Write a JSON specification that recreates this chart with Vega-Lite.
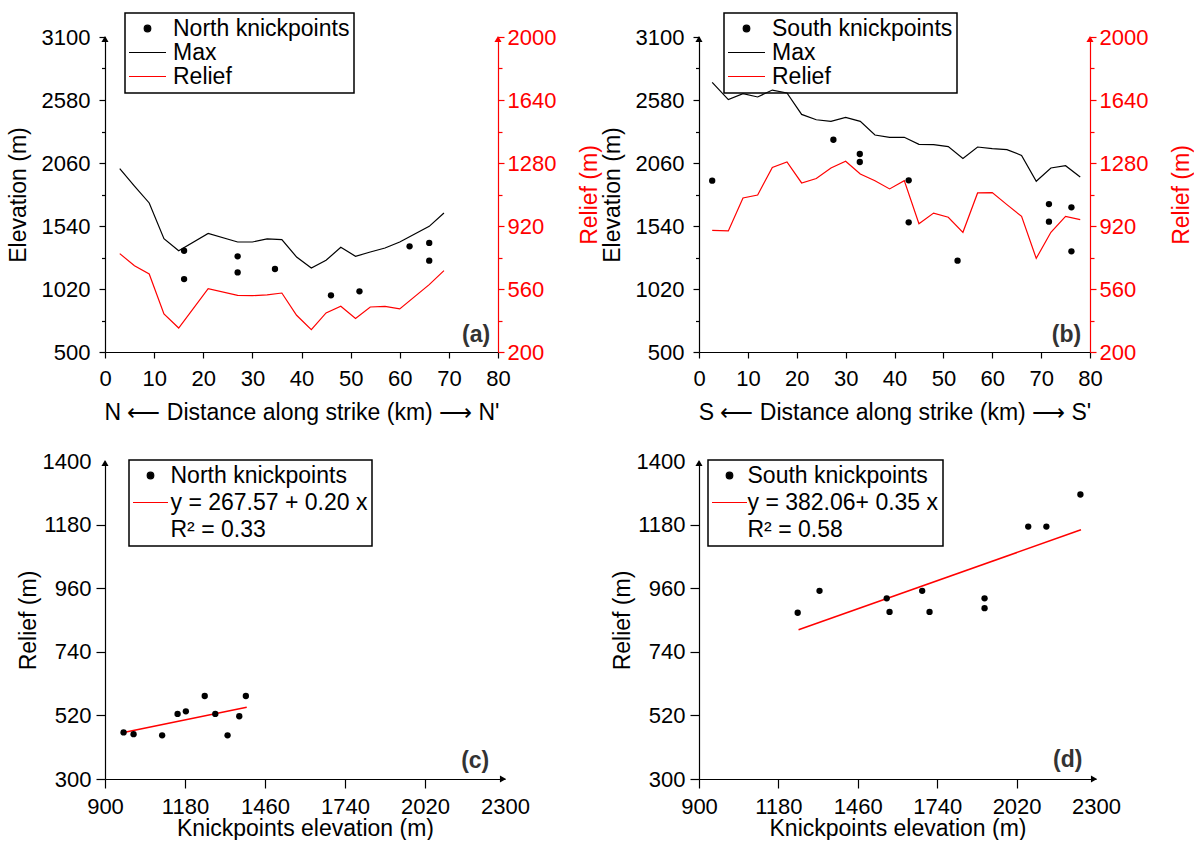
{
  "$schema": "https://vega.github.io/schema/vega-lite/v6.json",
  "background": "white",
  "padding": {"left": 7, "top": 12, "right": 0, "bottom": 0},
  "config": {
    "view": {"stroke": null},
    "font": "Liberation Sans",
    "axis": {
      "grid": false,
      "format": "d",
      "labelFont": "Liberation Sans",
      "titleFont": "Liberation Sans",
      "labelFontSize": 22,
      "titleFontSize": 23,
      "titleFontWeight": "normal",
      "labelColor": "black",
      "titleColor": "black",
      "domainColor": "black",
      "tickColor": "black",
      "domainWidth": 1.2,
      "tickWidth": 1.2,
      "labelOverlap": false,
      "labelFlush": false,
      "labelBound": false
    },
    "legend": {
      "labelFont": "Liberation Sans",
      "labelFontSize": 23,
      "labelColor": "black",
      "labelLimit": 400,
      "symbolSize": 400,
      "padding": 4,
      "strokeColor": "black",
      "title": null,
      "orient": "none"
    }
  },
  "datasets": {
    "northProfile": [
      {"dist": 3, "max": 2013, "relief": 762},
      {"dist": 6, "max": 1870, "relief": 693},
      {"dist": 9, "max": 1730, "relief": 646},
      {"dist": 12, "max": 1435, "relief": 417},
      {"dist": 15, "max": 1336, "relief": 337},
      {"dist": 21, "max": 1479, "relief": 562},
      {"dist": 27, "max": 1408, "relief": 524},
      {"dist": 30, "max": 1408, "relief": 522},
      {"dist": 33, "max": 1433, "relief": 526},
      {"dist": 36, "max": 1427, "relief": 537},
      {"dist": 39, "max": 1284, "relief": 410},
      {"dist": 42, "max": 1193, "relief": 328},
      {"dist": 45, "max": 1257, "relief": 423},
      {"dist": 48, "max": 1364, "relief": 461},
      {"dist": 51, "max": 1290, "relief": 391},
      {"dist": 54, "max": 1325, "relief": 457},
      {"dist": 57, "max": 1358, "relief": 461},
      {"dist": 60, "max": 1408, "relief": 446},
      {"dist": 66, "max": 1537, "relief": 585},
      {"dist": 69, "max": 1647, "relief": 665}
    ],
    "northKnick": [
      {"dist": 16.1, "elev": 1336},
      {"dist": 16.1, "elev": 1102},
      {"dist": 27, "elev": 1290},
      {"dist": 27, "elev": 1157},
      {"dist": 34.6, "elev": 1185},
      {"dist": 46, "elev": 968},
      {"dist": 51.8, "elev": 1001},
      {"dist": 62, "elev": 1372},
      {"dist": 66, "elev": 1400},
      {"dist": 66, "elev": 1254}
    ],
    "southProfile": [
      {"dist": 2.7, "max": 2726, "relief": 895},
      {"dist": 6, "max": 2583, "relief": 892},
      {"dist": 9, "max": 2632, "relief": 1080},
      {"dist": 12, "max": 2605, "relief": 1097},
      {"dist": 15, "max": 2662, "relief": 1255},
      {"dist": 18, "max": 2638, "relief": 1286},
      {"dist": 21, "max": 2461, "relief": 1166},
      {"dist": 24, "max": 2417, "relief": 1191},
      {"dist": 27, "max": 2404, "relief": 1252},
      {"dist": 30, "max": 2437, "relief": 1290},
      {"dist": 33, "max": 2404, "relief": 1217},
      {"dist": 36, "max": 2291, "relief": 1179},
      {"dist": 39, "max": 2272, "relief": 1132},
      {"dist": 42, "max": 2272, "relief": 1179},
      {"dist": 45, "max": 2214, "relief": 933},
      {"dist": 48, "max": 2211, "relief": 994},
      {"dist": 51, "max": 2195, "relief": 970},
      {"dist": 54, "max": 2098, "relief": 884},
      {"dist": 57, "max": 2192, "relief": 1109},
      {"dist": 60, "max": 2178, "relief": 1111},
      {"dist": 63, "max": 2170, "relief": 1042},
      {"dist": 66, "max": 2123, "relief": 975},
      {"dist": 69, "max": 1909, "relief": 735},
      {"dist": 72, "max": 2019, "relief": 884},
      {"dist": 75, "max": 2038, "relief": 975},
      {"dist": 78, "max": 1944, "relief": 956}
    ],
    "southKnick": [
      {"dist": 2.7, "elev": 1914},
      {"dist": 27.5, "elev": 2252},
      {"dist": 32.9, "elev": 2134},
      {"dist": 32.9, "elev": 2068},
      {"dist": 42.9, "elev": 1917},
      {"dist": 42.9, "elev": 1570},
      {"dist": 52.9, "elev": 1254},
      {"dist": 71.6, "elev": 1721},
      {"dist": 71.6, "elev": 1576},
      {"dist": 76.2, "elev": 1694},
      {"dist": 76.2, "elev": 1331}
    ],
    "northScatter": [
      {"elev": 965, "relief": 461},
      {"elev": 1000, "relief": 455},
      {"elev": 1100, "relief": 451},
      {"elev": 1154, "relief": 525},
      {"elev": 1183, "relief": 534},
      {"elev": 1249, "relief": 587},
      {"elev": 1286, "relief": 525},
      {"elev": 1329, "relief": 451},
      {"elev": 1370, "relief": 517},
      {"elev": 1393, "relief": 587}
    ],
    "northFit": [
      {"elev": 965, "relief": 461},
      {"elev": 1396, "relief": 548}
    ],
    "southScatter": [
      {"elev": 1248, "relief": 875},
      {"elev": 1325, "relief": 951},
      {"elev": 1562, "relief": 925},
      {"elev": 1572, "relief": 878},
      {"elev": 1687, "relief": 951},
      {"elev": 1713, "relief": 878},
      {"elev": 1907, "relief": 925},
      {"elev": 1907, "relief": 891},
      {"elev": 2061, "relief": 1173},
      {"elev": 2125, "relief": 1173},
      {"elev": 2245, "relief": 1284}
    ],
    "southFit": [
      {"elev": 1251, "relief": 816},
      {"elev": 2247, "relief": 1162}
    ]
  },
  "columns": 2,
  "bounds": "flush",
  "align": "all",
  "spacing": {"row": 106, "column": 194},
  "resolve": {"scale": {"color": "independent"}, "legend": {"color": "independent"}},
  "concat": [
    {
      "width": 393,
      "height": 315,
      "resolve": {"scale": {"y": "independent"}},
      "layer": [
        {
          "data": {"name": "northProfile"},
          "mark": {"type": "line", "strokeWidth": 1.2},
          "encoding": {
            "x": {"field": "dist", "type": "quantitative", "scale": {"domain": [0, 80]},
              "axis": {"title": "N ⟵ Distance along strike (km) ⟶ N'",
                "values": [0,5,10,15,20,25,30,35,40,45,50,55,60,65,70,75,80],
                "labelExpr": "datum.value % 10 === 0 ? datum.label : ''",
                "tickSize": {"condition": {"test": "datum.value % 10 === 0", "value": 6}, "value": 4},
                "labelPadding": 10, "titlePadding": 12.5}},
            "y": {"field": "max", "type": "quantitative", "scale": {"domain": [500, 3100]},
              "axis": {"title": "Elevation (m)",
                "values": [500,760,1020,1280,1540,1800,2060,2320,2580,2840,3100],
                "labelExpr": "(datum.value - 500) % 520 === 0 ? datum.label : ''",
                "tickSize": {"condition": {"test": "(datum.value - 500) % 520 === 0", "value": 6}, "value": 3.5},
                "labelPadding": 9, "titlePadding": 11}},
            "color": {"datum": "Max", "type": "nominal",
              "scale": {"domain": ["North knickpoints", "Max", "Relief"], "range": ["black", "black", "red"]},
              "legend": {"title": null, "orient": "none", "legendX": 20, "legendY": -24,
                "labelOffset": 14, "symbolOffset": 7, "rowPadding": 0,
                "encode": {
                  "legend": {"update": {"strokeWidth": {"value": 1.5}}},
                  "symbols": {"update": {
                    "shape": {"signal": "datum.index === 0 ? 'M-0.33,0A0.33,0.33 0 1,0 0.33,0A0.33,0.33 0 1,0 -0.33,0Z' : 'M-1.85,0H1.85'"},
                    "fill": {"signal": "datum.index === 0 ? 'black' : 'transparent'"},
                    "stroke": {"signal": "datum.index === 2 ? 'red' : 'black'"},
                    "strokeWidth": {"value": 1.2},
                    "opacity": {"value": 1}}}}}}
          }
        },
        {
          "data": {"name": "northKnick"},
          "mark": {"type": "circle", "size": 40, "opacity": 1},
          "encoding": {
            "x": {"field": "dist", "type": "quantitative"},
            "y": {"field": "elev", "type": "quantitative", "scale": {"domain": [500, 3100]}, "axis": null},
            "color": {"datum": "North knickpoints", "type": "nominal"}
          }
        },
        {
          "data": {"values": [{}]},
          "mark": {"type": "point", "shape": "triangle-up", "filled": true, "size": 50, "color": "black", "opacity": 1, "yOffset": 2},
          "encoding": {"x": {"datum": 0, "type": "quantitative"}, "y": {"datum": 3100, "type": "quantitative", "scale": {"domain": [500, 3100]}, "axis": null}}
        },
        {
          "data": {"values": [{}]},
          "mark": {"type": "text", "text": "(a)", "fontWeight": "bold", "fontSize": 23, "align": "right", "baseline": "alphabetic", "color": "#333333"},
          "encoding": {"x": {"datum": 78.4, "type": "quantitative"}, "y": {"datum": 585, "type": "quantitative", "scale": {"domain": [500, 3100]}, "axis": null}}
        },
        {
          "data": {"name": "northProfile"},
          "mark": {"type": "line", "strokeWidth": 1.2},
          "encoding": {
            "x": {"field": "dist", "type": "quantitative"},
            "y": {"field": "relief", "type": "quantitative", "scale": {"domain": [200, 2000]},
              "axis": {"orient": "right", "title": "Relief (m)",
                "values": [200,380,560,740,920,1100,1280,1460,1640,1820,2000],
                "labelExpr": "(datum.value - 200) % 360 === 0 ? datum.label : ''",
                "tickSize": {"condition": {"test": "(datum.value - 200) % 360 === 0", "value": 6}, "value": 4},
                "labelColor": "red", "titleColor": "red", "domainColor": "red", "tickColor": "red",
                "labelPadding": 3, "titleAngle": 270, "titleBaseline": "top", "titlePadding": 23}},
            "color": {"datum": "Relief", "type": "nominal"}
          }
        },
        {
          "data": {"values": [{}]},
          "mark": {"type": "point", "shape": "triangle-up", "filled": true, "size": 50, "color": "red", "opacity": 1, "yOffset": 2},
          "encoding": {"x": {"datum": 80, "type": "quantitative"}, "y": {"datum": 2000, "type": "quantitative", "scale": {"domain": [200, 2000]}, "axis": null}}
        }
      ]
    },
    {
      "width": 391,
      "height": 315,
      "resolve": {"scale": {"y": "independent"}},
      "layer": [
        {
          "data": {"name": "southProfile"},
          "mark": {"type": "line", "strokeWidth": 1.2},
          "encoding": {
            "x": {"field": "dist", "type": "quantitative", "scale": {"domain": [0, 80]},
              "axis": {"title": "S ⟵ Distance along strike (km) ⟶ S'",
                "values": [0,5,10,15,20,25,30,35,40,45,50,55,60,65,70,75,80],
                "labelExpr": "datum.value % 10 === 0 ? datum.label : ''",
                "tickSize": {"condition": {"test": "datum.value % 10 === 0", "value": 6}, "value": 4},
                "labelPadding": 10, "titlePadding": 12.5}},
            "y": {"field": "max", "type": "quantitative", "scale": {"domain": [500, 3100]},
              "axis": {"title": "Elevation (m)",
                "values": [500,760,1020,1280,1540,1800,2060,2320,2580,2840,3100],
                "labelExpr": "(datum.value - 500) % 520 === 0 ? datum.label : ''",
                "tickSize": {"condition": {"test": "(datum.value - 500) % 520 === 0", "value": 6}, "value": 3.5},
                "labelPadding": 9, "titlePadding": 11}},
            "color": {"datum": "Max", "type": "nominal",
              "scale": {"domain": ["South knickpoints", "Max", "Relief"], "range": ["black", "black", "red"]},
              "legend": {"title": null, "orient": "none", "legendX": 25, "legendY": -24,
                "labelOffset": 14, "symbolOffset": 7, "rowPadding": 0,
                "encode": {
                  "legend": {"update": {"strokeWidth": {"value": 1.5}}},
                  "symbols": {"update": {
                    "shape": {"signal": "datum.index === 0 ? 'M-0.33,0A0.33,0.33 0 1,0 0.33,0A0.33,0.33 0 1,0 -0.33,0Z' : 'M-1.85,0H1.85'"},
                    "fill": {"signal": "datum.index === 0 ? 'black' : 'transparent'"},
                    "stroke": {"signal": "datum.index === 2 ? 'red' : 'black'"},
                    "strokeWidth": {"value": 1.2},
                    "opacity": {"value": 1}}}}}}
          }
        },
        {
          "data": {"name": "southKnick"},
          "mark": {"type": "circle", "size": 40, "opacity": 1},
          "encoding": {
            "x": {"field": "dist", "type": "quantitative"},
            "y": {"field": "elev", "type": "quantitative", "scale": {"domain": [500, 3100]}, "axis": null},
            "color": {"datum": "South knickpoints", "type": "nominal"}
          }
        },
        {
          "data": {"values": [{}]},
          "mark": {"type": "point", "shape": "triangle-up", "filled": true, "size": 50, "color": "black", "opacity": 1, "yOffset": 2},
          "encoding": {"x": {"datum": 0, "type": "quantitative"}, "y": {"datum": 3100, "type": "quantitative", "scale": {"domain": [500, 3100]}, "axis": null}}
        },
        {
          "data": {"values": [{}]},
          "mark": {"type": "text", "text": "(b)", "fontWeight": "bold", "fontSize": 23, "align": "right", "baseline": "alphabetic", "color": "#333333"},
          "encoding": {"x": {"datum": 78.2, "type": "quantitative"}, "y": {"datum": 585, "type": "quantitative", "scale": {"domain": [500, 3100]}, "axis": null}}
        },
        {
          "data": {"name": "southProfile"},
          "mark": {"type": "line", "strokeWidth": 1.2},
          "encoding": {
            "x": {"field": "dist", "type": "quantitative"},
            "y": {"field": "relief", "type": "quantitative", "scale": {"domain": [200, 2000]},
              "axis": {"orient": "right", "title": "Relief (m)",
                "values": [200,380,560,740,920,1100,1280,1460,1640,1820,2000],
                "labelExpr": "(datum.value - 200) % 360 === 0 ? datum.label : ''",
                "tickSize": {"condition": {"test": "(datum.value - 200) % 360 === 0", "value": 6}, "value": 4},
                "labelColor": "red", "titleColor": "red", "domainColor": "red", "tickColor": "red",
                "labelPadding": 3, "titleAngle": 270, "titleBaseline": "top", "titlePadding": 23}},
            "color": {"datum": "Relief", "type": "nominal"}
          }
        },
        {
          "data": {"values": [{}]},
          "mark": {"type": "point", "shape": "triangle-up", "filled": true, "size": 50, "color": "red", "opacity": 1, "yOffset": 2},
          "encoding": {"x": {"datum": 80, "type": "quantitative"}, "y": {"datum": 2000, "type": "quantitative", "scale": {"domain": [200, 2000]}, "axis": null}}
        }
      ]
    },
    {
      "width": 400,
      "height": 318,
      "layer": [
        {
          "data": {"name": "northFit"},
          "mark": {"type": "line", "strokeWidth": 1.5},
          "encoding": {
            "x": {"field": "elev", "type": "quantitative", "scale": {"domain": [900, 2300]},
              "axis": {"title": "Knickpoints elevation (m)",
                "values": [900,1040,1180,1320,1460,1600,1740,1880,2020,2160,2300],
                "labelExpr": "(datum.value - 900) % 280 === 0 ? datum.label : ''",
                "tickSize": {"condition": {"test": "(datum.value - 900) % 280 === 0", "value": 9}, "value": 5},
                "tickOpacity": {"condition": {"test": "datum.value === 2300", "value": 0}, "value": 1},
                "labelPadding": 8, "titlePadding": 0}},
            "y": {"field": "relief", "type": "quantitative", "scale": {"domain": [300, 1400]},
              "axis": {"title": "Relief (m)",
                "values": [300,410,520,630,740,850,960,1070,1180,1290,1400],
                "labelExpr": "(datum.value - 300) % 220 === 0 ? datum.label : ''",
                "tickSize": {"condition": {"test": "(datum.value - 300) % 220 === 0", "value": 9}, "value": 5},
                "tickOpacity": {"condition": {"test": "datum.value === 1400", "value": 0}, "value": 1},
                "labelPadding": 5, "titlePadding": 2}},
            "color": {"datum": "y = 267.57 + 0.20 x", "type": "nominal",
              "scale": {"domain": ["North knickpoints", "y = 267.57 + 0.20 x", "R² = 0.33"], "range": ["black", "red", "transparent"]},
              "legend": {"title": null, "orient": "none", "legendX": 24, "legendY": -1,
                "labelOffset": 8.5, "symbolOffset": 6, "rowPadding": 3,
                "encode": {
                  "legend": {"update": {"strokeWidth": {"value": 1.5}}},
                  "symbols": {"update": {
                    "shape": {"signal": "datum.index === 0 ? 'M-0.33,0A0.33,0.33 0 1,0 0.33,0A0.33,0.33 0 1,0 -0.33,0Z' : 'M-1.75,0H1.75'"},
                    "fill": {"signal": "datum.index === 0 ? 'black' : 'transparent'"},
                    "stroke": {"signal": "datum.index === 0 ? 'black' : (datum.index === 1 ? 'red' : 'transparent')"},
                    "strokeWidth": {"value": 1.2},
                    "opacity": {"value": 1}}}}}}
          }
        },
        {
          "data": {"name": "northScatter"},
          "mark": {"type": "circle", "size": 40, "opacity": 1},
          "encoding": {
            "x": {"field": "elev", "type": "quantitative"},
            "y": {"field": "relief", "type": "quantitative"},
            "color": {"datum": "North knickpoints", "type": "nominal"}
          }
        },
        {
          "data": {"values": [{}]},
          "mark": {"type": "point", "shape": "triangle-up", "filled": true, "size": 50, "color": "black", "opacity": 1, "yOffset": 2},
          "encoding": {"x": {"datum": 900, "type": "quantitative"}, "y": {"datum": 1400, "type": "quantitative"}}
        },
        {
          "data": {"values": [{}]},
          "mark": {"type": "point", "shape": "triangle-right", "filled": true, "size": 50, "color": "black", "opacity": 1, "xOffset": -2},
          "encoding": {"x": {"datum": 2300, "type": "quantitative"}, "y": {"datum": 300, "type": "quantitative"}}
        },
        {
          "data": {"values": [{}]},
          "mark": {"type": "text", "text": "(c)", "fontWeight": "bold", "fontSize": 23, "align": "right", "baseline": "alphabetic", "color": "#333333"},
          "encoding": {"x": {"datum": 2245, "type": "quantitative"}, "y": {"datum": 338, "type": "quantitative"}}
        }
      ]
    },
    {
      "width": 397,
      "height": 318,
      "layer": [
        {
          "data": {"name": "southFit"},
          "mark": {"type": "line", "strokeWidth": 1.5},
          "encoding": {
            "x": {"field": "elev", "type": "quantitative", "scale": {"domain": [900, 2300]},
              "axis": {"title": "Knickpoints elevation (m)",
                "values": [900,1040,1180,1320,1460,1600,1740,1880,2020,2160,2300],
                "labelExpr": "(datum.value - 900) % 280 === 0 ? datum.label : ''",
                "tickSize": {"condition": {"test": "(datum.value - 900) % 280 === 0", "value": 9}, "value": 5},
                "tickOpacity": {"condition": {"test": "datum.value === 2300", "value": 0}, "value": 1},
                "labelPadding": 8, "titlePadding": 0}},
            "y": {"field": "relief", "type": "quantitative", "scale": {"domain": [300, 1400]},
              "axis": {"title": "Relief (m)",
                "values": [300,410,520,630,740,850,960,1070,1180,1290,1400],
                "labelExpr": "(datum.value - 300) % 220 === 0 ? datum.label : ''",
                "tickSize": {"condition": {"test": "(datum.value - 300) % 220 === 0", "value": 9}, "value": 5},
                "tickOpacity": {"condition": {"test": "datum.value === 1400", "value": 0}, "value": 1},
                "labelPadding": 5, "titlePadding": 2}},
            "color": {"datum": "y = 382.06+ 0.35 x", "type": "nominal",
              "scale": {"domain": ["South knickpoints", "y = 382.06+ 0.35 x", "R² = 0.58"], "range": ["black", "red", "transparent"]},
              "legend": {"title": null, "orient": "none", "legendX": 9, "legendY": -1,
                "labelOffset": 6.5, "symbolOffset": 6, "rowPadding": 3,
                "encode": {
                  "legend": {"update": {"strokeWidth": {"value": 1.5}}},
                  "symbols": {"update": {
                    "shape": {"signal": "datum.index === 0 ? 'M-0.33,0A0.33,0.33 0 1,0 0.33,0A0.33,0.33 0 1,0 -0.33,0Z' : 'M-1.75,0H1.75'"},
                    "fill": {"signal": "datum.index === 0 ? 'black' : 'transparent'"},
                    "stroke": {"signal": "datum.index === 0 ? 'black' : (datum.index === 1 ? 'red' : 'transparent')"},
                    "strokeWidth": {"value": 1.2},
                    "opacity": {"value": 1}}}}}}
          }
        },
        {
          "data": {"name": "southScatter"},
          "mark": {"type": "circle", "size": 40, "opacity": 1},
          "encoding": {
            "x": {"field": "elev", "type": "quantitative"},
            "y": {"field": "relief", "type": "quantitative"},
            "color": {"datum": "South knickpoints", "type": "nominal"}
          }
        },
        {
          "data": {"values": [{}]},
          "mark": {"type": "point", "shape": "triangle-up", "filled": true, "size": 50, "color": "black", "opacity": 1, "yOffset": 2},
          "encoding": {"x": {"datum": 900, "type": "quantitative"}, "y": {"datum": 1400, "type": "quantitative"}}
        },
        {
          "data": {"values": [{}]},
          "mark": {"type": "point", "shape": "triangle-right", "filled": true, "size": 50, "color": "black", "opacity": 1, "xOffset": -2},
          "encoding": {"x": {"datum": 2300, "type": "quantitative"}, "y": {"datum": 300, "type": "quantitative"}}
        },
        {
          "data": {"values": [{}]},
          "mark": {"type": "text", "text": "(d)", "fontWeight": "bold", "fontSize": 23, "align": "right", "baseline": "alphabetic", "color": "#333333"},
          "encoding": {"x": {"datum": 2252, "type": "quantitative"}, "y": {"datum": 342, "type": "quantitative"}}
        }
      ]
    }
  ]
}
